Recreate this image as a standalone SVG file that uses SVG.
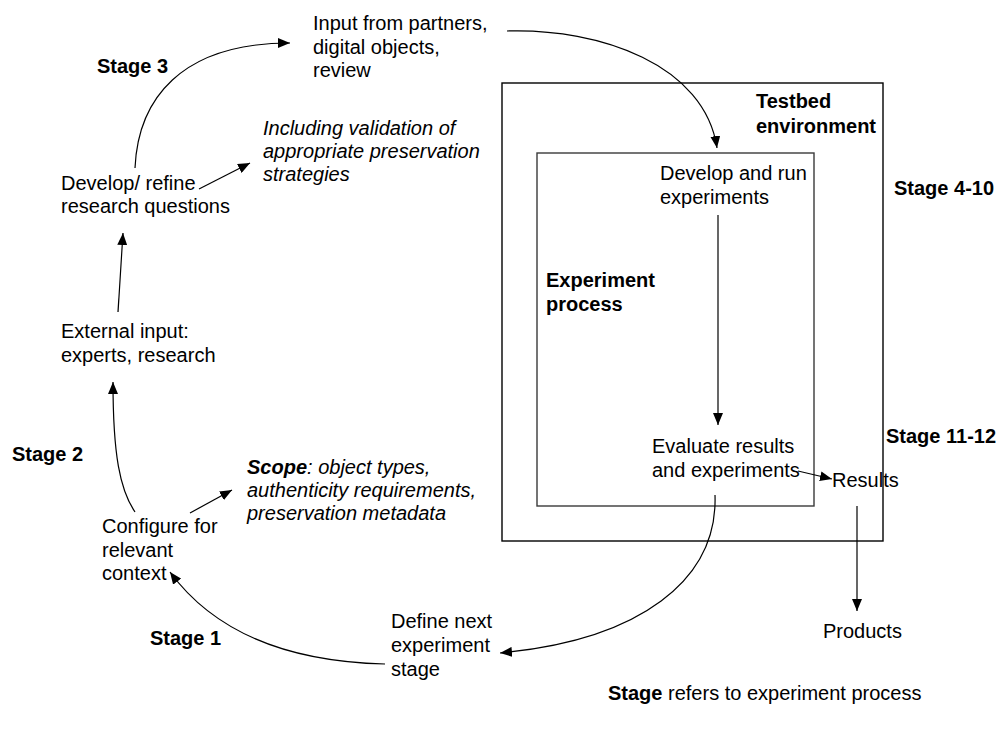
<svg xmlns="http://www.w3.org/2000/svg" width="998" height="729" viewBox="0 0 998 729">
  <style>
    text { font-family: "Liberation Sans", Arial, sans-serif; font-size: 20px; fill: #000; }
    .b { font-weight: bold; }
    .i { font-style: italic; }
    .edge { fill: none; stroke: #000; stroke-width: 1.2; }
    .box { fill: none; stroke: #000; stroke-width: 1.4; }
    .inner { fill: none; stroke: #3a3a3a; stroke-width: 1.4; }
  </style>
  <defs>
    <marker id="arrow" viewBox="0 0 12 10" refX="12" refY="5" markerWidth="12" markerHeight="10" markerUnits="userSpaceOnUse" orient="auto">
      <path d="M0,0 L12,5 L0,10 z" fill="#000"/>
    </marker>
  </defs>
  <rect width="998" height="729" fill="#fff"/>

  <!-- containers -->
  <g id="testbed">
    <rect class="box" x="502" y="83" width="381" height="458"/>
    <text class="b" x="756" y="108">Testbed<tspan x="756" dy="25">environment</tspan></text>
  </g>
  <g id="experiment-process">
    <rect class="inner" x="537" y="153" width="277" height="353"/>
    <text class="b" x="546" y="287">Experiment<tspan x="546" dy="23.5">process</tspan></text>
  </g>

  <!-- nodes -->
  <g id="input-partners">
    <text x="313" y="30">Input from partners,<tspan x="313" dy="23.5">digital objects,</tspan><tspan x="313" dy="23.5">review</tspan></text>
  </g>
  <g id="validation-note">
    <text class="i" x="263" y="135">Including validation of<tspan x="263" dy="23">appropriate preservation</tspan><tspan x="263" dy="23">strategies</tspan></text>
  </g>
  <g id="research-questions">
    <text x="61" y="190">Develop/ refine<tspan x="61" dy="23">research questions</tspan></text>
  </g>
  <g id="external-input">
    <text x="61" y="338">External input:<tspan x="61" dy="24">experts, research</tspan></text>
  </g>
  <g id="scope-note">
    <text class="i" x="247" y="474"><tspan class="b">Scope</tspan>: object types,<tspan x="247" dy="23">authenticity requirements,</tspan><tspan x="247" dy="23">preservation metadata</tspan></text>
  </g>
  <g id="configure">
    <text x="102" y="533">Configure for<tspan x="102" dy="23.5">relevant</tspan><tspan x="102" dy="23.5">context</tspan></text>
  </g>
  <g id="define-next">
    <text x="391" y="628">Define next<tspan x="391" dy="24">experiment</tspan><tspan x="391" dy="24">stage</tspan></text>
  </g>
  <g id="develop-run">
    <text x="660" y="180">Develop and run<tspan x="660" dy="24">experiments</tspan></text>
  </g>
  <g id="evaluate">
    <text x="652" y="453">Evaluate results<tspan x="652" dy="24">and experiments</tspan></text>
  </g>
  <g id="results">
    <text x="832" y="487">Results</text>
  </g>
  <g id="products">
    <text x="823" y="638">Products</text>
  </g>

  <!-- stage labels -->
  <g id="stage-labels">
    <text class="b" x="97" y="73">Stage 3</text>
    <text class="b" x="12" y="461">Stage 2</text>
    <text class="b" x="150" y="645">Stage 1</text>
    <text class="b" x="894" y="195">Stage 4-10</text>
    <text class="b" x="886" y="443">Stage 11-12</text>
  </g>
  <g id="legend">
    <text x="608" y="700"><tspan class="b">Stage</tspan> refers to experiment process</text>
  </g>

  <!-- connectors -->
  <g id="connectors" marker-end="url(#arrow)">
    <path class="edge" d="M135,168 C138,100 180,43 290,43" marker-end="url(#arrow)"/>
    <path class="edge" d="M507,31 C600,28 705,65 717,148" marker-end="url(#arrow)"/>
    <path class="edge" d="M199,189 L250,163" marker-end="url(#arrow)"/>
    <path class="edge" d="M118,312 L123,233" marker-end="url(#arrow)"/>
    <path class="edge" d="M135,512 C120,490 113,455 113,382" marker-end="url(#arrow)"/>
    <path class="edge" d="M190,513 L232,490" marker-end="url(#arrow)"/>
    <path class="edge" d="M718,215 L718,425" marker-end="url(#arrow)"/>
    <path class="edge" d="M798,471 L832,479" marker-end="url(#arrow)"/>
    <path class="edge" d="M857,506 L857,611" marker-end="url(#arrow)"/>
    <path class="edge" d="M715,495 C718,580 640,640 500,653" marker-end="url(#arrow)"/>
    <path class="edge" d="M385,664 C300,662 220,640 170,572" marker-end="url(#arrow)"/>
  </g>
</svg>
